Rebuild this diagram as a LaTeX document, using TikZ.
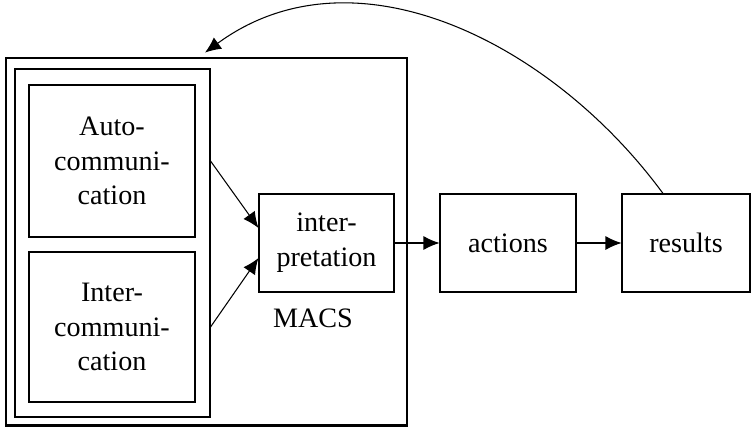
\documentclass[tikz,border=0pt]{standalone}
\usepackage{fontspec}
\setmainfont{Liberation Serif}
\usetikzlibrary{arrows.meta, positioning, calc}

\tikzset{
    box/.style={draw, line width=0.6pt, align=center, inner sep=0pt,
        font=\fontsize{16}{19.8}\selectfont},
    arr/.style={line width=0.6pt, -{Latex[length=3.2mm, width=2.8mm]}}
}

\begin{document}
\begin{tikzpicture}

    \useasboundingbox (0,0) rectangle (15.02,8.54);

    % === MACS frame and the communication group ===
    \node[box, line width=1.6pt, minimum width=8.02cm, minimum height=7.35cm] (macs) at (4.13,3.705) {};
    \node[box, minimum width=3.90cm, minimum height=6.96cm] (group) at (2.25,3.68) {};
    \node[box, minimum width=3.32cm, minimum height=3.04cm] (auto) at (2.24,5.32) {Auto-\\communi-\\cation};
    \node[box, minimum width=3.32cm, minimum height=3.00cm] (inter) at (2.24,2.00) {Inter-\\communi-\\cation};
    \node[box, minimum width=2.70cm, minimum height=1.96cm] (interp) at (6.53,3.68) {inter-\\pretation};
    \node[font=\fontsize{16}{19.8}\selectfont] (macslabel) at (6.26,2.18) {MACS};

    % === Outcome chain ===
    \node[box, minimum width=2.72cm, minimum height=1.96cm] (actions) at (10.16,3.68) {actions};
    \node[box, minimum width=2.56cm, minimum height=1.96cm] (results) at (13.72,3.68) {results};

    % === Connectors ===
    \draw[arr] (auto.east -| group.east) -- ([yshift=0.3cm]interp.west);
    \draw[arr] (inter.east -| group.east) -- ([yshift=-0.3cm]interp.west);
    \draw[arr] (interp) -- (actions);
    \draw[arr] (actions) -- (results);

    % feedback from results back into the frame
    \draw[arr] ([xshift=-0.46cm]results.north) .. controls +(-2.2,3.0) and +(3.0,2.2) .. ([shift={(-0.03,0.08)}]macs.north);

\end{tikzpicture}
\end{document}
